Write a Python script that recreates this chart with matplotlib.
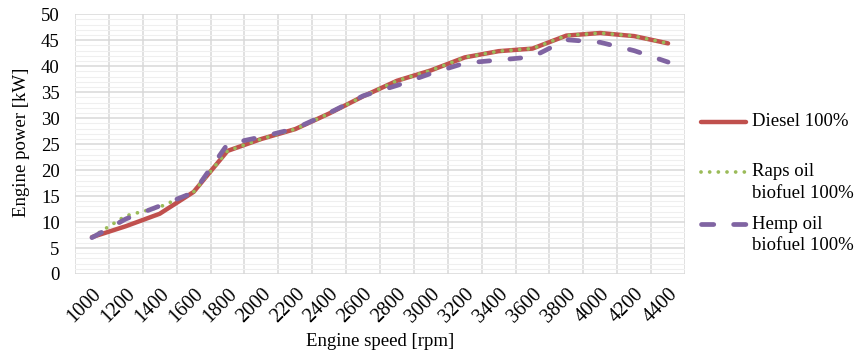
import numpy as np
import matplotlib
matplotlib.use("Agg")
import matplotlib.pyplot as plt
from matplotlib.lines import Line2D
from matplotlib.ticker import MultipleLocator

# engine speed categories [rpm]
speed = [1000, 1200, 1400, 1600, 1800, 2000, 2200, 2400, 2600,
         2800, 3000, 3200, 3400, 3600, 3800, 4000, 4200, 4400]

# engine power [kW]
diesel = [7.1, 9.2, 11.6, 15.8, 23.7, 26.0, 27.9, 30.9, 34.2,
          37.2, 39.2, 41.7, 42.9, 43.4, 45.9, 46.4, 45.8, 44.4]
raps = [7.1, 11.2, 12.9, 15.8, 23.7, 26.0, 27.9, 30.9, 34.2,
        37.2, 39.2, 41.7, 42.9, 43.4, 45.9, 46.4, 45.8, 44.4]
hemp = [7.0, 10.6, 13.1, 15.7, 25.0, 26.4, 28.0, 31.0, 34.3,
        36.3, 38.6, 40.6, 41.2, 41.8, 45.1, 44.6, 43.0, 40.8]

labels = ["Diesel 100%", "Raps oil\nbiofuel 100%", "Hemp oil\nbiofuel 100%"]

plt.rcParams['font.family'] = ['Liberation Serif', 'DejaVu Serif']
plt.rcParams['font.size'] = 13.5

fig = plt.figure(figsize=(8.55, 3.54), dpi=100)
ax = fig.add_axes([75 / 855, 1 - 274 / 354, 610 / 855, (274 - 14.3) / 354])

styles = [
    dict(color='#C0504D', lw=3.2, solid_capstyle='round'),
    dict(color='#9BBB59', lw=2.7, linestyle=(0, (0.01, 2.3)),
         dash_capstyle='round'),
    dict(color='#8064A2', lw=3.4, linestyle=(0, (2.3, 4.3)),
         dash_capstyle='round'),
]
# legend handles: same look, pattern fitted to the short sample
legend_styles = [
    styles[0],
    styles[1],
    dict(styles[2], linestyle=(0, (2.6, 4.2))),
]

x = np.arange(len(speed))
for vals, st in zip([diesel, raps, hemp], styles):
    ax.plot(x, vals, **st, zorder=3)

ax.set_xlim(-0.5, len(speed) - 0.5)
ax.set_ylim(0, 50)
ax.set_xticks(x)
ax.set_xticklabels([str(s) for s in speed], rotation=45, ha='right',
                   va='top', rotation_mode='anchor', fontsize=14.5)
ax.set_xticks(np.arange(-0.5, len(speed), 1), minor=True)
ax.yaxis.set_major_locator(MultipleLocator(5))
ax.yaxis.set_minor_locator(MultipleLocator(1))
ax.tick_params(axis='both', which='both', length=0)
ax.tick_params(axis='y', pad=11)
ax.tick_params(axis='x', pad=8)

ax.grid(axis='x', which='minor', color='#D9D9D9', lw=1.1)
ax.grid(axis='y', which='major', color='#D9D9D9', lw=1.1)
ax.grid(axis='y', which='minor', color='#EFEFEF', lw=0.8)
ax.set_axisbelow(True)
for sp in ax.spines.values():
    sp.set_visible(False)

W, H = 855, 354
fig.text(380 / W, 1 - 342 / H, "Engine speed [rpm]", ha='center', va='center')
fig.text(22 / W, 1 - 142 / H, "Engine power [kW]", ha='center', va='center',
         rotation=90)

# legend on the right, handle beside first text line
rows = [121.7, 171.7, 224]
for y, lab, st in zip(rows, labels, legend_styles):
    fig.add_artist(Line2D([700.5 / W, 745.5 / W], [1 - y / H, 1 - y / H],
                          transform=fig.transFigure, **st))
    for i, part in enumerate(lab.split("\n")):
        fig.text(752 / W, 1 - (y + 22 * i) / H, part, va='center', ha='left')

fig.savefig("out.png", dpi=100)
